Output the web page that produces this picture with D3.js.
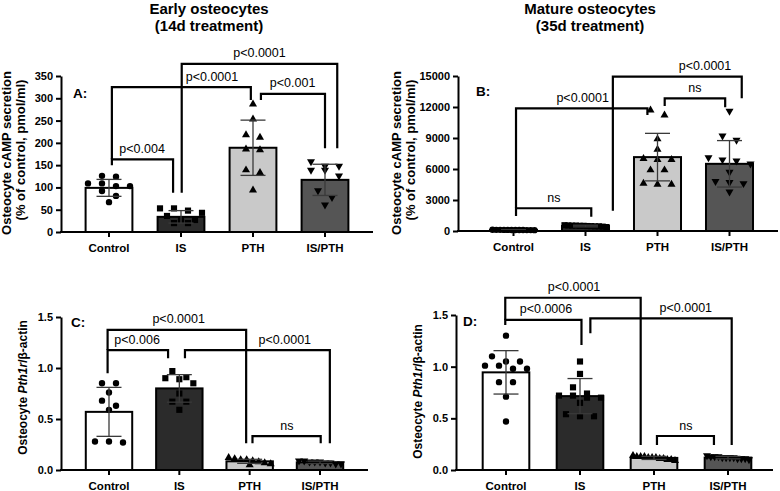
<!DOCTYPE html>
<html><head><meta charset="utf-8">
<script src="https://cdn.jsdelivr.net/npm/d3@7"></script>
<style>
body{margin:0;background:#fff}
svg{display:block}
text{font-family:"Liberation Sans",Arial,Helvetica,sans-serif}
</style>
</head><body>
<svg id="chart" width="780" height="491"></svg>
<script>
// ---------------- DATA ----------------
const categories = ["Control", "IS", "PTH", "IS/PTH"];

// Panel A: Early osteocytes cAMP (% of control)
const aMeans = [99, 34, 189, 117];
const aSD = [19, 14, 62, 35];
const aPoints = [
  [126, 124, 109, 109, 103, 103, 92, 81, 67],
  [53, 53, 48, 43, 36, 27, 27, 20, 20],
  [287, 253, 218, 212, 186, 184, 139, 133, 94],
  [158, 148, 148, 139, 139, 126, 93, 78, 61]
];
const aTicks = [0, 50, 100, 150, 200, 250, 300, 350];
const aBrackets = [
  {a: 0.04, b: 0.89, y: 163, ya: 150, yb: 88, label: "p<0.004", lx: 0.46},
  {a: 0.04, b: 1.97, y: 325, ya: 163, yb: 296, label: "p<0.0001", lx: 1.43},
  {a: 1.01, b: 3.17, y: 377, ya: 88, yb: 188, label: "p<0.0001", lx: 2.09},
  {a: 2.11, b: 3.0, y: 310, ya: 296, yb: 188, label: "p<0.001", lx: 2.55}
];

// Panel B: Mature osteocytes cAMP (% of control)
const bMeans = [100, 480, 7150, 6500];
const bSD = [20, 80, 2300, 2250];
const bPoints = [
  [80, 95, 100, 105, 110, 90, 100, 120, 85, 100, 105, 110],
  [380, 420, 450, 480, 500, 520, 540, 470, 500, 450, 520, 560],
  [11700, 11200, 8900, 7900, 7000, 6900, 6900, 5900, 5900, 4600, 4500, 4500],
  [11600, 9200, 8800, 7100, 6900, 6800, 6500, 5700, 4800, 4700, 4600, 3800]
];
const bTicks = [0, 3000, 6000, 9000, 12000, 15000];
const bBrackets = [
  {a: 0.035, b: 1.08, y: 2200, ya: 1450, yb: 1380, label: "ns", lx: 0.56},
  {a: 0.035, b: 1.86, y: 11870, ya: 2200, yb: 11230, label: "p<0.0001", lx: 0.96},
  {a: 1.38, b: 3.17, y: 14930, ya: 1960, yb: 12840, label: "p<0.0001", lx: 2.66},
  {a: 2.1, b: 2.94, y: 12840, ya: 12100, yb: 11970, label: "ns", lx: 2.52}
];

// Panel C: Early osteocytes Pth1r / beta-actin
const cMeans = [0.57, 0.80, 0.085, 0.075];
const cSD = [0.24, 0.135, 0.02, 0.012];
const cPoints = [
  [0.85, 0.85, 0.76, 0.68, 0.63, 0.59, 0.28, 0.28, 0.27],
  [0.97, 0.91, 0.90, 0.89, 0.85, 0.75, 0.67, 0.67, 0.59],
  [0.12, 0.11, 0.10, 0.10, 0.09, 0.08, 0.07, 0.06, 0.05],
  [0.09, 0.09, 0.08, 0.08, 0.08, 0.07, 0.07, 0.06, 0.06]
];
const cTicks = [0, 0.5, 1.0, 1.5];
const cBrackets = [
  {a: -0.02, b: 0.84, y: 1.176, ya: 0.948, yb: 1.095, label: "p<0.006", lx: 0.4},
  {a: -0.02, b: 1.95, y: 1.373, ya: 1.176, yb: 0.262, label: "p<0.0001", lx: 0.99},
  {a: 1.08, b: 3.14, y: 1.176, ya: 1.095, yb: 0.262, label: "p<0.0001", lx: 2.5},
  {a: 2.04, b: 3.01, y: 0.333, ya: 0.262, yb: 0.262, label: "ns", lx: 2.53}
];

// Panel D: Mature osteocytes Pth1r / beta-actin
const dMeans = [0.945, 0.715, 0.117, 0.12];
const dSD = [0.21, 0.17, 0.015, 0.012];
const dPoints = [
  [1.30, 1.10, 1.05, 1.05, 1.01, 1.01, 0.98, 0.98, 0.85, 0.85, 0.71, 0.47],
  [1.05, 0.93, 0.80, 0.74, 0.72, 0.72, 0.70, 0.70, 0.65, 0.54, 0.52, 0.52],
  [0.14, 0.13, 0.13, 0.13, 0.12, 0.12, 0.12, 0.11, 0.11, 0.10, 0.10, 0.09],
  [0.14, 0.13, 0.13, 0.12, 0.12, 0.12, 0.12, 0.11, 0.11, 0.11, 0.10, 0.13]
];
const dTicks = [0, 0.5, 1.0, 1.5];
const dBrackets = [
  {a: -0.01, b: 1.82, y: 1.667, ya: 1.452, yb: 0.242, label: "p<0.0001", lx: 0.92},
  {a: -0.01, b: 1.02, y: 1.452, ya: 1.403, yb: 1.21, label: "p<0.0006", lx: 0.54},
  {a: 1.14, b: 3.05, y: 1.468, ya: 1.323, yb: 0.242, label: "p<0.0001", lx: 2.43},
  {a: 2.04, b: 2.81, y: 0.329, ya: 0.242, yb: 0.242, label: "ns", lx: 2.43}
];

// ---------------- STYLE ----------------
const barFills = ["#ffffff", "#2b2b2b", "#c9c9c9", "#555555"];
const markerTypes = ["circle", "square", "tri", "triDown"];

// ---------------- DRAW ----------------
const svg = d3.select("#chart");

function swarm(vals, y, maxSpread, gap) {
  const s = vals.map(v => ({v, py: y(v)})).sort((p, q) => p.py - q.py);
  const out = [];
  let i = 0;
  while (i < s.length) {
    let j = i;
    while (j < s.length && s[j].py - s[i].py < 7) j++;
    const n = j - i;
    const sp = n > 1 ? Math.min(gap, maxSpread / (n - 1)) : 0;
    for (let k = 0; k < n; k++) out.push({v: s[i + k].v, dx: (k - (n - 1) / 2) * sp});
    i = j;
  }
  return out;
}

function markerPath(type) {
  if (type === "circle") return d3.symbol(d3.symbolCircle, 32)();
  if (type === "square") return d3.symbol(d3.symbolSquare, 38)();
  return d3.symbol(d3.symbolTriangle, 28)();
}

function drawPanel(L, means, sds, points, ticks, fmt, brackets) {
  const g = svg.append("g");
  const step = (L.c3 - L.c0) / 3;
  const x = d3.scaleBand().domain(categories)
    .range([L.c0 - step / 2, L.c3 + step / 2])
    .paddingInner(L.pad).paddingOuter(L.pad / 2);
  const bw = x.bandwidth();
  const cx = c => x(c) + bw / 2;
  const pos = d3.scaleLinear().domain([0, 3]).range([L.c0, L.c3]);
  const y = d3.scaleLinear().domain([0, ticks[ticks.length - 1]]).range([L.yBase, L.yTop]);

  // bars
  g.selectAll("rect.bar").data(categories).join("rect")
    .attr("x", c => x(c)).attr("width", bw)
    .attr("y", (c, i) => y(means[i])).attr("height", (c, i) => L.yBase - y(means[i]))
    .attr("fill", (c, i) => barFills[i]).attr("stroke", "#000").attr("stroke-width", 2);

  // points
  categories.forEach((c, i) => {
    const pts = swarm(points[i], y, 42, 14);
    g.selectAll(null).data(pts).join("path")
      .attr("d", markerPath(markerTypes[i]))
      .attr("transform", d => `translate(${cx(c) + d.dx},${y(d.v)})` + (markerTypes[i] === "triDown" ? " rotate(180)" : ""))
      .attr("fill", "#000");
  });

  // error bars
  categories.forEach((c, i) => {
    const hi = y(means[i] + sds[i]), lo = y(Math.max(0, means[i] - sds[i]));
    const eg = g.append("g").attr("stroke", "#3a3a3a").attr("stroke-width", 1.3);
    eg.append("line").attr("x1", cx(c)).attr("x2", cx(c)).attr("y1", hi).attr("y2", lo);
    eg.append("line").attr("x1", cx(c) - 12.5).attr("x2", cx(c) + 12.5).attr("y1", hi).attr("y2", hi);
    eg.append("line").attr("x1", cx(c) - 12.5).attr("x2", cx(c) + 12.5).attr("y1", lo).attr("y2", lo);
  });

  // y axis
  const ya = g.append("g").attr("transform", `translate(${L.ax},0)`)
    .call(d3.axisLeft(y).tickValues(ticks).tickFormat(fmt).tickSize(5).tickSizeOuter(0).tickPadding(3));
  ya.select(".domain").attr("stroke-width", 2);
  ya.selectAll(".tick line").attr("stroke-width", 2);
  ya.selectAll("text").attr("font-size", 11).attr("font-weight", "bold")
    .attr("font-family", "Liberation Sans, Arial, sans-serif").attr("fill", "#000");

  // x axis
  const xa = g.append("g").attr("transform", `translate(0,${L.yBase})`)
    .call(d3.axisBottom(x).tickSize(5).tickSizeOuter(0));
  xa.select(".domain").remove();
  xa.selectAll(".tick line").attr("stroke-width", 2);
  xa.selectAll("text").attr("font-size", 11.5).attr("font-weight", "bold")
    .attr("font-family", "Liberation Sans, Arial, sans-serif").attr("fill", "#000")
    .attr("y", 20).attr("dy", 0);
  g.append("line").attr("x1", L.ax - 1).attr("x2", L.axEnd)
    .attr("y1", L.yBase).attr("y2", L.yBase).attr("stroke", "#000").attr("stroke-width", 2);

  // brackets
  brackets.forEach(b => {
    const x1 = pos(b.a), x2 = pos(b.b), yy = y(b.y);
    g.append("path")
      .attr("d", `M${x1},${y(b.ya)}V${yy}H${x2}V${y(b.yb)}`)
      .attr("fill", "none").attr("stroke", "#000").attr("stroke-width", 2.2);
    g.append("text").attr("x", pos(b.lx)).attr("y", yy - 6.5)
      .attr("text-anchor", "middle").attr("font-size", 12.5).text(b.label);
  });

  // panel letter
  g.append("text").attr("x", L.lx).attr("y", L.ly).attr("font-size", 13.5)
    .attr("font-weight", "bold").text(L.letter);
}

const fmtInt = d3.format("d");
const fmt1 = d3.format(".1f");

drawPanel({c0: 109, c3: 325, pad: 0.35, yBase: 232, yTop: 76, ax: 61, axEnd: 373, letter: "A:", lx: 73, ly: 97.5},
  aMeans, aSD, aPoints, aTicks, fmtInt, aBrackets);
drawPanel({c0: 513.5, c3: 729.5, pad: 0.347, yBase: 231, yTop: 76, ax: 458, axEnd: 778, letter: "B:", lx: 476, ly: 95.5},
  bMeans, bSD, bPoints, bTicks, fmtInt, bBrackets);
drawPanel({c0: 109, c3: 320, pad: 0.34, yBase: 470, yTop: 317, ax: 61, axEnd: 368, letter: "C:", lx: 71, ly: 327},
  cMeans, cSD, cPoints, cTicks, fmt1, cBrackets);
drawPanel({c0: 506, c3: 728, pad: 0.37, yBase: 470, yTop: 315, ax: 456, axEnd: 773, letter: "D:", lx: 463, ly: 325.5},
  dMeans, dSD, dPoints, dTicks, fmt1, dBrackets);

// titles
function title(xc, lines) {
  lines.forEach((t, i) => svg.append("text").attr("x", xc).attr("y", 13.5 + i * 17.7)
    .attr("text-anchor", "middle").attr("font-size", 15).attr("font-weight", "bold").text(t));
}
title(209, ["Early osteocytes", "(14d treatment)"]);
title(590, ["Mature osteocytes", "(35d treatment)"]);

// y-axis titles
function yTitle(xb, yc, parts, size) {
  const t = svg.append("text").attr("transform", `translate(${xb},${yc}) rotate(-90)`)
    .attr("text-anchor", "middle").attr("font-size", size).attr("font-weight", "bold");
  parts.forEach(p => t.append("tspan").attr("font-style", p.i ? "italic" : null).text(p.t));
}
yTitle(11, 153, [{t: "Osteocyte cAMP secretion"}], 13);
yTitle(24.5, 150, [{t: "(% of control, pmol/ml)"}], 13);
yTitle(401, 153, [{t: "Osteocyte cAMP secretion"}], 13);
yTitle(414.5, 150, [{t: "(% of control, pmol/ml)"}], 13);
yTitle(27, 387.5, [{t: "Osteocyte "}, {t: "Pth1r", i: true}, {t: "/β-actin"}], 12);
yTitle(422, 391.5, [{t: "Osteocyte "}, {t: "Pth1r", i: true}, {t: "/β-actin"}], 12);
</script>
</body></html>
